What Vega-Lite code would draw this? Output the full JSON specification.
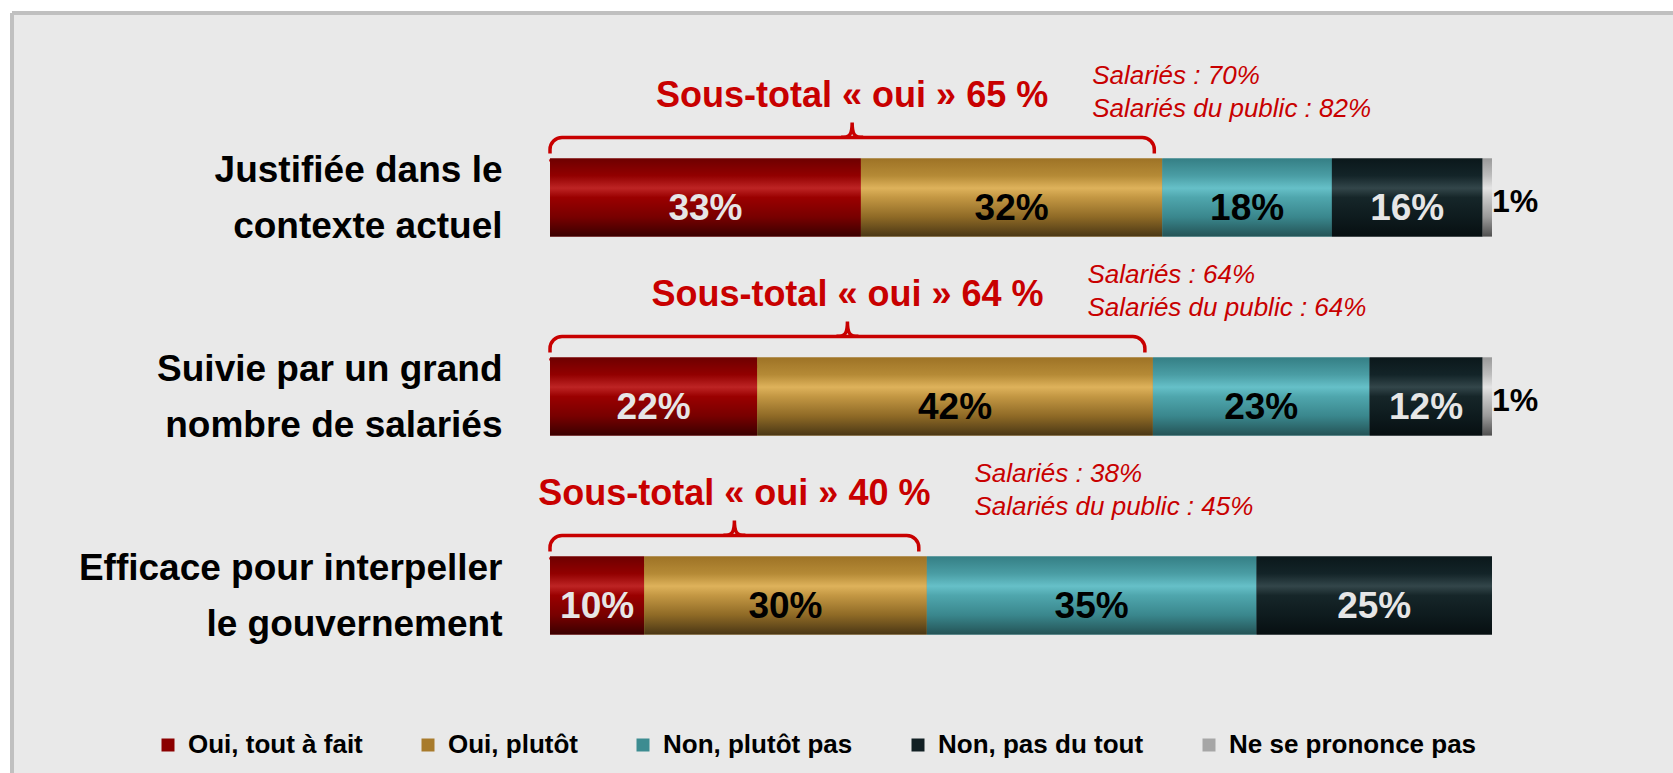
{
  "$schema": "https://vega.github.io/schema/vega-lite/v6.json",
  "width": 1661,
  "height": 760,
  "autosize": {"type": "none"},
  "padding": {"left": 12, "top": 13, "right": 0, "bottom": 0},
  "background": "white",
  "config": {
    "view": {"fill": "#e9e9e9", "stroke": "#c0c0c0", "strokeWidth": 4, "strokeDash": [1661, 2421, 760, 0]},
    "font": "Liberation Sans"
  },
  "datasets": {
    "bars": [
      {"item": "Justifiée dans le|contexte actuel", "cat": "Oui, tout à fait", "value": 33, "ord": 1},
      {"item": "Justifiée dans le|contexte actuel", "cat": "Oui, plutôt", "value": 32, "ord": 2},
      {"item": "Justifiée dans le|contexte actuel", "cat": "Non, plutôt pas", "value": 18, "ord": 3},
      {"item": "Justifiée dans le|contexte actuel", "cat": "Non, pas du tout", "value": 16, "ord": 4},
      {"item": "Justifiée dans le|contexte actuel", "cat": "Ne se prononce pas", "value": 1, "ord": 5},
      {"item": "Suivie par un grand|nombre de salariés", "cat": "Oui, tout à fait", "value": 22, "ord": 1},
      {"item": "Suivie par un grand|nombre de salariés", "cat": "Oui, plutôt", "value": 42, "ord": 2},
      {"item": "Suivie par un grand|nombre de salariés", "cat": "Non, plutôt pas", "value": 23, "ord": 3},
      {"item": "Suivie par un grand|nombre de salariés", "cat": "Non, pas du tout", "value": 12, "ord": 4},
      {"item": "Suivie par un grand|nombre de salariés", "cat": "Ne se prononce pas", "value": 1, "ord": 5},
      {"item": "Efficace pour interpeller|le gouvernement", "cat": "Oui, tout à fait", "value": 10, "ord": 1},
      {"item": "Efficace pour interpeller|le gouvernement", "cat": "Oui, plutôt", "value": 30, "ord": 2},
      {"item": "Efficace pour interpeller|le gouvernement", "cat": "Non, plutôt pas", "value": 35, "ord": 3},
      {"item": "Efficace pour interpeller|le gouvernement", "cat": "Non, pas du tout", "value": 25, "ord": 4}
    ],
    "ann": [
      {"item": "Justifiée dans le|contexte actuel", "sub": 65, "tot": "Sous-total « oui » 65 %", "sal": "Salariés : 70%", "pub": "Salariés du public : 82%"},
      {"item": "Suivie par un grand|nombre de salariés", "sub": 64, "tot": "Sous-total « oui » 64 %", "sal": "Salariés : 64%", "pub": "Salariés du public : 64%"},
      {"item": "Efficace pour interpeller|le gouvernement", "sub": 40, "tot": "Sous-total « oui » 40 %", "sal": "Salariés : 38%", "pub": "Salariés du public : 45%"}
    ]
  },
  "layer": [
    {
      "data": {"name": "ann"},
      "transform": [{"calculate": "0", "as": "z"}],
      "mark": {"type": "bar", "height": 30, "yOffset": -45, "cornerRadius": 12, "fill": "transparent", "stroke": "#c80000", "strokeWidth": 3.5, "x2Offset": -8},
      "encoding": {
        "y": {
          "field": "item",
          "type": "nominal",
          "scale": {
            "domain": ["Justifiée dans le|contexte actuel", "Suivie par un grand|nombre de salariés", "Efficace pour interpeller|le gouvernement"],
            "range": [85, 682],
            "paddingInner": 0,
            "paddingOuter": 0
          },
          "axis": {
            "title": null,
            "orient": "left",
            "offset": -490,
            "labelPadding": 0,
            "ticks": false,
            "domain": false,
            "grid": false,
            "labelFont": "Liberation Sans",
            "labelFontSize": 37,
            "labelFontWeight": "bold",
            "labelColor": "black",
            "labelExpr": "split(datum.label, '|')",
            "labelLineHeight": 56,
            "labelOffset": -27,
            "labelLimit": 700,
            "labelOverlap": false,
            "labelBaseline": "middle",
            "labelAlign": "right"
          }
        },
        "x": {"field": "z", "type": "quantitative", "scale": {"domain": [0, 100], "range": [538, 1480], "nice": false, "zero": false}, "axis": null},
        "x2": {"field": "sub"}
      }
    },
    {
      "data": {"name": "ann"},
      "transform": [{"calculate": "0", "as": "z"}],
      "mark": {"type": "bar", "height": 6, "yOffset": -41, "fill": "#e9e9e9", "xOffset": -6, "x2Offset": 2},
      "encoding": {
        "y": {"field": "item", "type": "nominal"},
        "x": {"field": "z", "type": "quantitative"},
        "x2": {"field": "sub"}
      }
    },
    {
      "data": {"name": "bars"},
      "transform": [{"stack": "value", "groupby": ["item"], "sort": [{"field": "ord"}], "as": ["v0", "v1"]}],
      "mark": {"type": "bar", "height": 78},
      "encoding": {
        "y": {"field": "item", "type": "nominal"},
        "x": {"field": "v0", "type": "quantitative"},
        "x2": {"field": "v1"},
        "color": {
          "field": "cat",
          "type": "nominal",
          "scale": {
            "domain": ["Oui, tout à fait", "Oui, plutôt", "Non, plutôt pas", "Non, pas du tout", "Ne se prononce pas"],
            "range": ["#8b0000", "#a87b2c", "#3d8c91", "#122024", "#a6a6a6"]
          },
          "legend": {
            "orient": "none",
            "legendX": 143,
            "legendY": 719,
            "direction": "horizontal",
            "title": null,
            "symbolType": "square",
            "symbolSize": 169,
            "symbolStrokeWidth": 0,
            "symbolOpacity": 1,
            "labelFont": "Liberation Sans",
            "labelFontSize": 26,
            "labelFontWeight": "bold",
            "labelColor": "black",
            "columnPadding": 52,
            "labelOffset": 7,
            "labelLimit": 600
          }
        }
      }
    },
    {
      "data": {"name": "bars"},
      "transform": [{"stack": "value", "groupby": ["item"], "sort": [{"field": "ord"}], "as": ["v0", "v1"]}, {"filter": "datum.cat === 'Oui, tout à fait'"}],
      "mark": {"type": "bar", "height": 78, "fill": {"gradient": "linear", "x1": 0, "y1": 0, "x2": 0, "y2": 1, "stops": [
        {"offset": 0, "color": "#6e0000"}, {"offset": 0.22, "color": "#920000"}, {"offset": 0.38, "color": "#bd2424"},
        {"offset": 0.5, "color": "#9a0000"}, {"offset": 0.75, "color": "#780000"}, {"offset": 1, "color": "#3a0000"}]}},
      "encoding": {"y": {"field": "item", "type": "nominal"}, "x": {"field": "v0", "type": "quantitative"}, "x2": {"field": "v1"}}
    },
    {
      "data": {"name": "bars"},
      "transform": [{"stack": "value", "groupby": ["item"], "sort": [{"field": "ord"}], "as": ["v0", "v1"]}, {"filter": "datum.cat === 'Oui, plutôt'"}],
      "mark": {"type": "bar", "height": 78, "fill": {"gradient": "linear", "x1": 0, "y1": 0, "x2": 0, "y2": 1, "stops": [
        {"offset": 0, "color": "#9e7326"}, {"offset": 0.22, "color": "#b58a36"}, {"offset": 0.38, "color": "#deb25b"},
        {"offset": 0.5, "color": "#c39743"}, {"offset": 0.75, "color": "#8f6a26"}, {"offset": 1, "color": "#4a3715"}]}},
      "encoding": {"y": {"field": "item", "type": "nominal"}, "x": {"field": "v0", "type": "quantitative"}, "x2": {"field": "v1"}}
    },
    {
      "data": {"name": "bars"},
      "transform": [{"stack": "value", "groupby": ["item"], "sort": [{"field": "ord"}], "as": ["v0", "v1"]}, {"filter": "datum.cat === 'Non, plutôt pas'"}],
      "mark": {"type": "bar", "height": 78, "fill": {"gradient": "linear", "x1": 0, "y1": 0, "x2": 0, "y2": 1, "stops": [
        {"offset": 0, "color": "#357f85"}, {"offset": 0.22, "color": "#4a9da4"}, {"offset": 0.38, "color": "#66c0c8"},
        {"offset": 0.5, "color": "#4fa6ad"}, {"offset": 0.75, "color": "#3a878d"}, {"offset": 1, "color": "#245356"}]}},
      "encoding": {"y": {"field": "item", "type": "nominal"}, "x": {"field": "v0", "type": "quantitative"}, "x2": {"field": "v1"}}
    },
    {
      "data": {"name": "bars"},
      "transform": [{"stack": "value", "groupby": ["item"], "sort": [{"field": "ord"}], "as": ["v0", "v1"]}, {"filter": "datum.cat === 'Non, pas du tout'"}],
      "mark": {"type": "bar", "height": 78, "fill": {"gradient": "linear", "x1": 0, "y1": 0, "x2": 0, "y2": 1, "stops": [
        {"offset": 0, "color": "#0b181b"}, {"offset": 0.22, "color": "#132428"}, {"offset": 0.38, "color": "#33464a"},
        {"offset": 0.5, "color": "#162629"}, {"offset": 0.75, "color": "#0e1b1e"}, {"offset": 1, "color": "#070f11"}]}},
      "encoding": {"y": {"field": "item", "type": "nominal"}, "x": {"field": "v0", "type": "quantitative"}, "x2": {"field": "v1"}}
    },
    {
      "data": {"name": "bars"},
      "transform": [{"stack": "value", "groupby": ["item"], "sort": [{"field": "ord"}], "as": ["v0", "v1"]}, {"filter": "datum.cat === 'Ne se prononce pas'"}],
      "mark": {"type": "bar", "height": 78, "fill": {"gradient": "linear", "x1": 0, "y1": 0, "x2": 0, "y2": 1, "stops": [
        {"offset": 0, "color": "#9a9a9a"}, {"offset": 0.22, "color": "#bdbdbd"}, {"offset": 0.38, "color": "#e4e4e4"},
        {"offset": 0.5, "color": "#c8c8c8"}, {"offset": 0.75, "color": "#9a9a9a"}, {"offset": 1, "color": "#505050"}]}},
      "encoding": {"y": {"field": "item", "type": "nominal"}, "x": {"field": "v0", "type": "quantitative"}, "x2": {"field": "v1"}}
    },
    {
      "data": {"name": "bars"},
      "transform": [
        {"stack": "value", "groupby": ["item"], "sort": [{"field": "ord"}], "as": ["v0", "v1"]},
        {"filter": "datum.cat !== 'Ne se prononce pas'"},
        {"calculate": "(datum.v0 + datum.v1) / 2", "as": "mid"},
        {"calculate": "datum.value + '%'", "as": "label"},
        {"calculate": "datum.cat === 'Oui, tout à fait' || datum.cat === 'Non, pas du tout' ? '#e6e6e6' : '#000000'", "as": "tc"}
      ],
      "mark": {"type": "text", "fontSize": 37, "fontWeight": "bold", "align": "center", "baseline": "alphabetic", "yOffset": 22},
      "encoding": {
        "y": {"field": "item", "type": "nominal"},
        "x": {"field": "mid", "type": "quantitative"},
        "text": {"field": "label", "type": "nominal"},
        "fill": {"field": "tc", "type": "nominal", "scale": null}
      }
    },
    {
      "data": {"name": "bars"},
      "transform": [
        {"stack": "value", "groupby": ["item"], "sort": [{"field": "ord"}], "as": ["v0", "v1"]},
        {"filter": "datum.cat === 'Ne se prononce pas'"},
        {"calculate": "datum.value + '%'", "as": "label"}
      ],
      "mark": {"type": "text", "fontSize": 32, "fontWeight": "bold", "align": "left", "baseline": "alphabetic", "yOffset": 14, "xOffset": 0, "color": "#000000"},
      "encoding": {
        "y": {"field": "item", "type": "nominal"},
        "x": {"field": "v1", "type": "quantitative"},
        "text": {"field": "label", "type": "nominal"}
      }
    },
    {
      "data": {"name": "ann"},
      "transform": [{"calculate": "datum.sub / 2", "as": "mid"}],
      "mark": {"type": "point", "shape": "M -1 0.35 C -0.2 0.35 0 0.1 0 -1 C 0 0.1 0.2 0.35 1 0.35", "size": 484, "filled": false, "color": "#c80000", "strokeWidth": 3.5, "opacity": 1, "xOffset": -4, "yOffset": -64},
      "encoding": {"y": {"field": "item", "type": "nominal"}, "x": {"field": "mid", "type": "quantitative"}}
    },
    {
      "data": {"name": "ann"},
      "transform": [{"calculate": "datum.sub / 2", "as": "mid"}],
      "mark": {"type": "text", "fontSize": 36, "fontWeight": "bold", "color": "#c80000", "align": "center", "baseline": "alphabetic", "yOffset": -91, "xOffset": -4},
      "encoding": {"y": {"field": "item", "type": "nominal"}, "x": {"field": "mid", "type": "quantitative"}, "text": {"field": "tot", "type": "nominal"}}
    },
    {
      "data": {"name": "ann"},
      "transform": [{"calculate": "datum.sub / 2", "as": "mid"}],
      "mark": {"type": "text", "fontSize": 26, "fontStyle": "italic", "color": "#c80000", "align": "left", "baseline": "alphabetic", "yOffset": -114, "xOffset": 236},
      "encoding": {"y": {"field": "item", "type": "nominal"}, "x": {"field": "mid", "type": "quantitative"}, "text": {"field": "sal", "type": "nominal"}}
    },
    {
      "data": {"name": "ann"},
      "transform": [{"calculate": "datum.sub / 2", "as": "mid"}],
      "mark": {"type": "text", "fontSize": 26, "fontStyle": "italic", "color": "#c80000", "align": "left", "baseline": "alphabetic", "yOffset": -81, "xOffset": 236},
      "encoding": {"y": {"field": "item", "type": "nominal"}, "x": {"field": "mid", "type": "quantitative"}, "text": {"field": "pub", "type": "nominal"}}
    }
  ]
}
